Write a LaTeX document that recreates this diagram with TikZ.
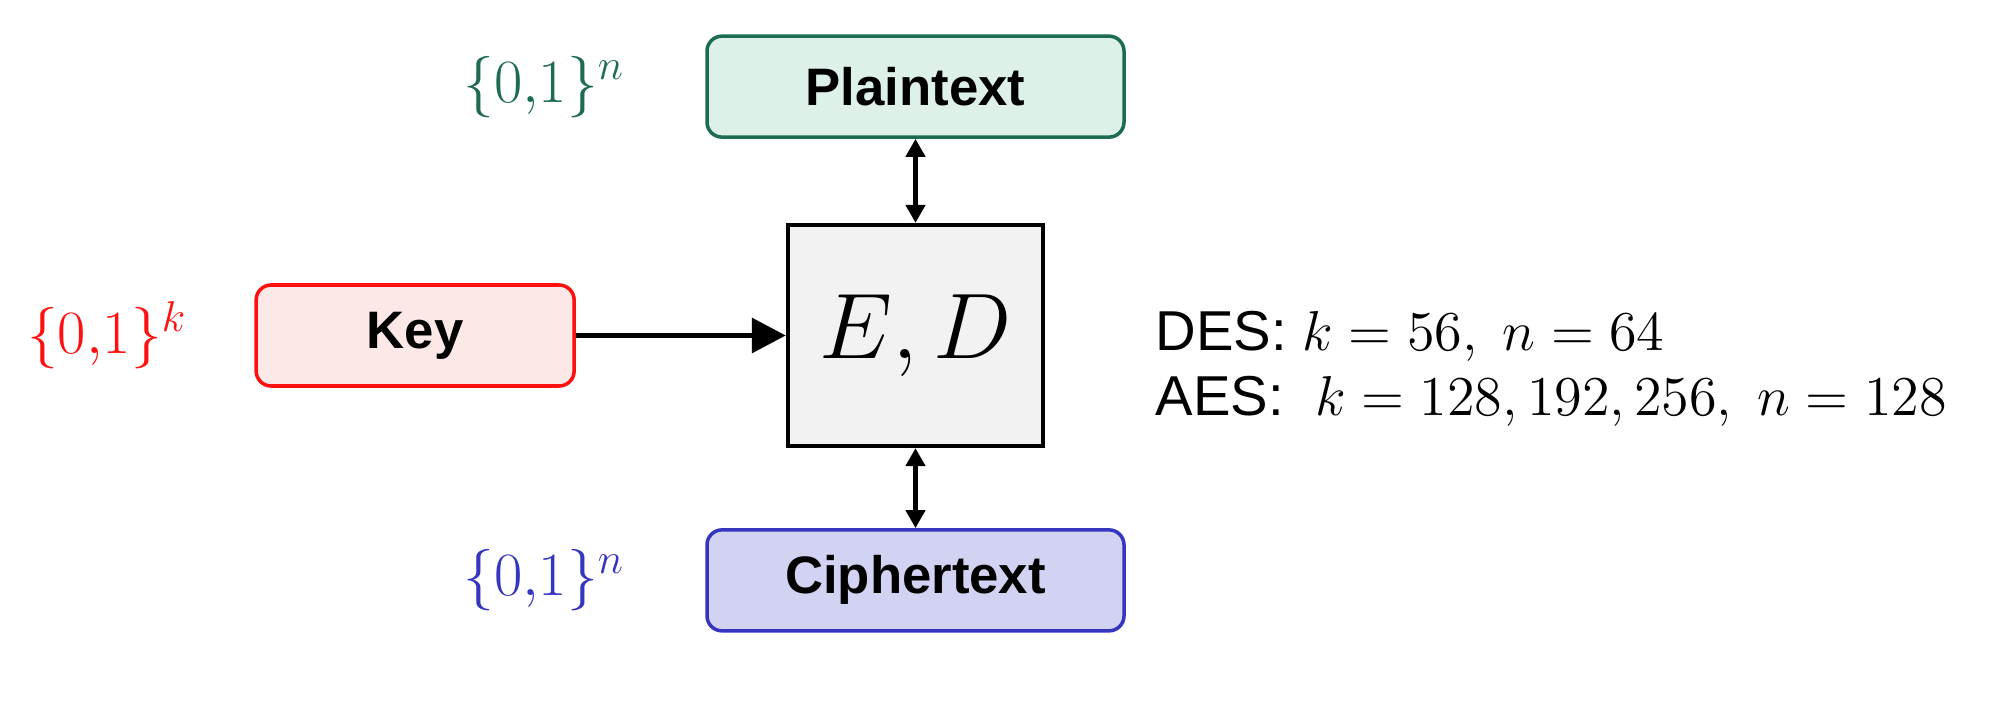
\RequirePackage{fix-cm}
\documentclass[tikz,border=0pt]{standalone}
\usepackage{amsmath}
\usepackage{fontspec}
\setmainfont{Liberation Sans}
\usetikzlibrary{arrows.meta,positioning}

\definecolor{plaindraw}{HTML}{1D6B52}
\definecolor{plainfill}{HTML}{DDF1E8}
\definecolor{keydraw}{HTML}{FF1010}
\definecolor{keyfill}{HTML}{FDE8E8}
\definecolor{cipherdraw}{HTML}{3535C0}
\definecolor{cipherfill}{HTML}{D2D2F2}
\definecolor{boxfill}{HTML}{F2F2F2}

\begin{document}
\begin{tikzpicture}[
    textbox/.style={draw, rounded corners=1.5mm, line width=1pt, minimum width=4.17cm, minimum height=1.01cm,
                    font=\fontsize{15}{18}\selectfont\bfseries},
    setlabel/.style={font=\fontsize{17.5}{20}\selectfont},
    >={Triangle[length=1.8mm, width=1.9mm]},
]
\useasboundingbox (0,0) rectangle (20,7.01);

% Cipher box in the middle
\node[draw, line width=1.2pt, fill=boxfill, minimum width=2.55cm, minimum height=2.21cm,
      font=\fontsize{26.5}{30}\selectfont] (ed) at (9.155,3.655) {$E,D$};

% Plaintext and ciphertext, above and below
\node[textbox, draw=plaindraw, fill=plainfill, above=0.84cm of ed] (plain) {Plaintext};
\node[textbox, draw=cipherdraw, fill=cipherfill, below=0.8cm of ed] (cipher) {Ciphertext};
\draw[<->, line width=1.3pt] (plain.south) -- (ed.north);
\draw[<->, line width=1.3pt] (cipher.north) -- (ed.south);

% Key on the left
\node[textbox, draw=keydraw, fill=keyfill, minimum width=3.18cm, left=2.1cm of ed] (key) {Key};
\draw[-{Triangle[length=3.4mm, width=3.4mm]}, line width=1.7pt] (key) -- (ed);

% Sets of bit strings
\node[setlabel, text=plaindraw, left=0.68cm of plain] (plainset) {$\{0{,}1\}^n$};
\node[setlabel, text=keydraw, left=0.55cm of key] (keyset) {$\{0{,}1\}^k$};
\node[setlabel, text=cipherdraw, left=0.68cm of cipher] (cipherset) {$\{0{,}1\}^n$};

% Parameters of the two ciphers
\node[align=left, anchor=west, font=\fontsize{16}{18.5}\selectfont, inner sep=0pt]
  (params) at ([xshift=1.1cm, yshift=-0.33cm]ed.east)
  {DES: $k=56,\ n=64$\\
   AES:\ \ $k=128, 192, 256,\ n=128$};

\end{tikzpicture}
\end{document}
